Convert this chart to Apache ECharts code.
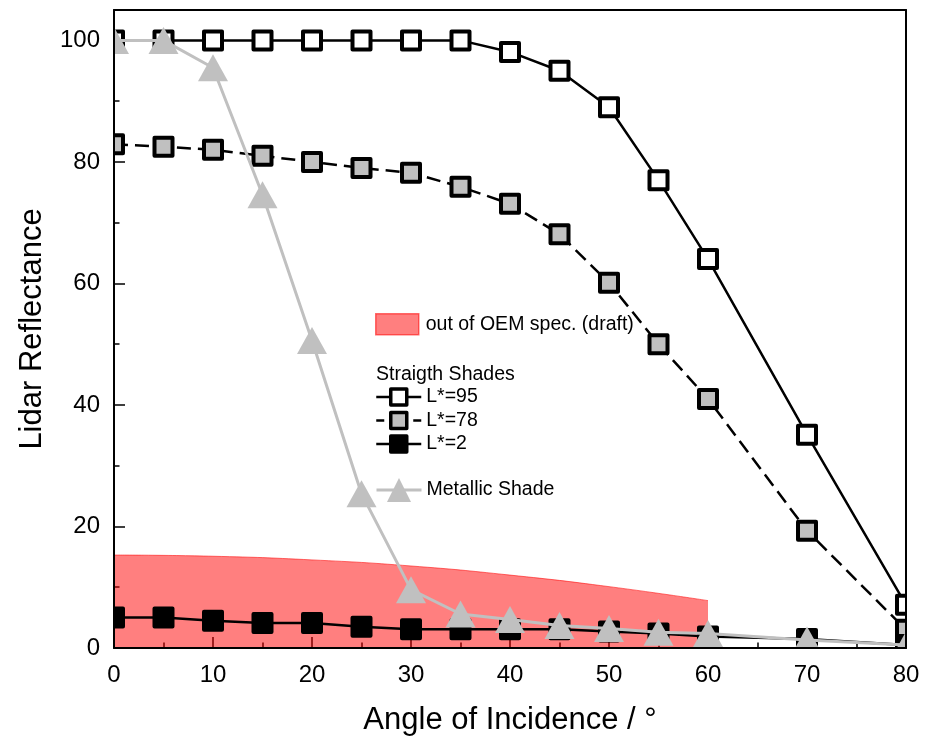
<!DOCTYPE html>
<html>
<head>
<meta charset="utf-8">
<script src="https://cdn.jsdelivr.net/npm/echarts@6/dist/echarts.min.js"></script>
<style>
  html, body { margin: 0; padding: 0; background: #fff; }
  #chart { width: 938px; height: 743px; }
</style>
</head>
<body>
<div id="chart"></div>
<script>
// Angles of incidence (degrees)
const angles = [0, 5, 10, 15, 20, 25, 30, 35, 40, 45, 50, 55, 60, 70, 80];

// Lidar reflectance of straight shades by lightness L*
const refl95 = [100, 100, 100, 100, 100, 100, 100, 100, 98.1, 95.0, 89.0, 77.0, 64.0, 35.1, 7.1];
const refl78 = [82.9, 82.5, 82.0, 81.0, 80.0, 79.0, 78.2, 75.9, 73.1, 68.1, 60.1, 50.0, 41.0, 19.3, 3.0];
const refl2  = [5.0, 5.0, 4.5, 4.1, 4.1, 3.5, 3.1, 3.1, 3.1, 3.1, 2.7, 2.4, 1.9, 1.5, 0.5];

// Lidar reflectance of the metallic shade
const reflMetallic = [100, 100, 95.5, 74.6, 50.6, 25.4, 9.6, 5.6, 4.7, 3.7, 3.2, 2.6, 2.4, 1.3, 0.5];

// Upper boundary of the out-of-spec region
const specAngles = [0, 10, 20, 30, 40, 50, 60];
const specLimit  = [15.3, 15.1, 14.5, 13.5, 12.0, 10.1, 7.8];

// Axis ranges and tick steps
const xTicks = { min: 0, max: 80, step: 10 };
const yTicks = { min: 0, max: 105, step: 20 };

const FONT = "'Liberation Sans', Arial, sans-serif";
const pairs = (xs, ys) => xs.map((x, i) => [x, ys[i]]);

// plot frame in pixels
const G = { left: 114, right: 32, top: 10, bottom: 95, w: 938, h: 743 };

const chart = echarts.init(document.getElementById('chart'), null, { renderer: 'canvas' });

const lineOn = { show: true, onZero: false, lineStyle: { color: '#000', width: 2 } };
const lineOff = { show: false };
const tickMajor = { show: true, inside: true, length: 11, lineStyle: { color: '#000', width: 1.5 } };
const tickMinor = { show: true, inside: true, length: 5.5, lineStyle: { color: '#000', width: 1.5 } };
const noLabel = { show: false };

// Tick axes sit under the series; frame/label axes sit above the edge mask.
function xAxisDef(position, frame, labels) {
  return {
    type: 'value', position: position,
    min: xTicks.min, max: xTicks.max, interval: xTicks.step,
    z: frame ? 20 : 0,
    axisLine: frame ? lineOn : lineOff,
    axisTick: frame ? { show: false } : tickMajor,
    minorTick: frame ? { show: false } :
      { show: true, splitNumber: 2, length: 5.5, lineStyle: { color: '#000', width: 1.5 } },
    splitLine: { show: false },
    axisLabel: labels ? { show: true, fontSize: 24, color: '#000', fontFamily: FONT, margin: 15 } : noLabel,
    name: labels ? 'Angle of Incidence / °' : '',
    nameLocation: 'middle', nameGap: 57,
    nameTextStyle: { fontSize: 31, color: '#000', fontFamily: FONT }
  };
}
function yAxisDef(position, step, ticks, frame, labels) {
  return {
    type: 'value', position: position,
    min: yTicks.min, max: yTicks.max, interval: step,
    z: frame ? 20 : 0,
    axisLine: frame ? lineOn : lineOff,
    axisTick: ticks || { show: false },
    splitLine: { show: false },
    axisLabel: labels ? { show: true, fontSize: 24, color: '#000', fontFamily: FONT, margin: 14, showMaxLabel: false } : noLabel,
    name: labels ? 'Lidar Reflectance' : '',
    nameLocation: 'middle', nameGap: 66,
    nameTextStyle: { fontSize: 31, color: '#000', fontFamily: FONT }
  };
}

const squareStyle = (fill) => ({ color: fill, borderColor: '#000', borderWidth: 4, borderJoin: 'round' });

// white mask outside the plot frame so edge markers are cut at the frame
const mask = (x, y, w, h) => ({ type: 'rect', z: 15, silent: true,
  shape: { x: x, y: y, width: w, height: h }, style: { fill: '#fff' } });

const option = {
  backgroundColor: '#fff',
  animation: false,
  grid: { left: G.left, right: G.right, top: G.top, bottom: G.bottom, containLabel: false },
  xAxis: [
    xAxisDef('bottom', false, false),
    xAxisDef('bottom', true, true),
    xAxisDef('top', false, false),
    xAxisDef('top', true, false)
  ],
  yAxis: [
    yAxisDef('left', yTicks.step, tickMajor, false, false),
    yAxisDef('left', yTicks.step / 2, tickMinor, false, false),
    yAxisDef('left', yTicks.step, null, true, true),
    yAxisDef('right', yTicks.step, tickMajor, false, false),
    yAxisDef('right', yTicks.step / 2, tickMinor, false, false),
    yAxisDef('right', yTicks.step, null, true, false)
  ],
  legend: [
    {
      left: 375, top: 313, padding: 0, selectedMode: false, z: 16,
      itemWidth: 43, itemHeight: 21,
      textStyle: { fontSize: 19.5, color: '#000', fontFamily: FONT, padding: [0, 0, 0, 2] },
      data: [{ name: 'out of OEM spec. (draft)', icon: 'rect',
               itemStyle: { color: 'rgba(255,0,0,0.5)', borderColor: 'rgba(255,0,0,0.55)', borderWidth: 1.5 } }]
    },
    {
      left: 375, top: 387, padding: 0, selectedMode: false, orient: 'vertical', z: 16,
      itemWidth: 45, itemHeight: 20, itemGap: 3.5,
      itemStyle: { borderWidth: 3.5 },
      lineStyle: { width: 2.5 },
      textStyle: { fontSize: 19.5, color: '#000', fontFamily: FONT },
      data: [
        { name: 'L*=95' },
        { name: 'L*=78', lineStyle: { type: [8, 29], width: 2.5 } },
        { name: 'L*=2' }
      ]
    },
    {
      left: 375, top: 478, padding: 0, selectedMode: false, z: 16,
      itemWidth: 45, itemHeight: 30,
      itemStyle: { borderWidth: 0 },
      lineStyle: { width: 3 },
      textStyle: { fontSize: 19.5, color: '#000', fontFamily: FONT },
      data: [{ name: 'Metallic Shade' }]
    }
  ],
  graphic: [
    mask(0, 0, G.left, G.h),
    mask(G.w - G.right, 0, G.right, G.h),
    mask(0, 0, G.w, G.top),
    mask(0, G.h - G.bottom, G.w, G.bottom),
    {
      type: 'text', left: 376, top: 365, z: 16,
      style: { text: 'Straigth Shades', fontSize: 19.5, fill: '#000', fontFamily: FONT }
    }
  ],
  series: [
    {
      name: 'out of OEM spec. (draft)', type: 'line', smooth: true,
      data: pairs(specAngles, specLimit),
      symbol: 'none',
      lineStyle: { color: 'rgba(255,0,0,0.55)', width: 1 },
      itemStyle: { color: 'rgba(255,0,0,0.5)' },
      areaStyle: { color: 'rgba(255,0,0,0.5)', opacity: 1 },
      z: 1
    },
    {
      name: 'L*=95', type: 'line', data: pairs(angles, refl95),
      symbol: 'rect', symbolSize: 18,
      lineStyle: { color: '#000', width: 2.5 },
      itemStyle: squareStyle('#fff'), z: 3
    },
    {
      name: 'L*=78', type: 'line', data: pairs(angles, refl78),
      symbol: 'rect', symbolSize: 18,
      lineStyle: { color: '#000', width: 2.5, type: [14, 7] },
      itemStyle: squareStyle('#c0c0c0'), z: 4
    },
    {
      name: 'L*=2', type: 'line', data: pairs(angles, refl2),
      symbol: 'rect', symbolSize: 18,
      lineStyle: { color: '#000', width: 2.5 },
      itemStyle: squareStyle('#000'), z: 5
    },
    {
      name: 'Metallic Shade', type: 'line', data: pairs(angles, reflMetallic),
      symbol: 'triangle', symbolSize: [30, 27],
      lineStyle: { color: '#c0c0c0', width: 3 },
      itemStyle: { color: '#c0c0c0', borderWidth: 0 }, z: 6
    }
  ]
};

chart.setOption(option);
</script>
</body>
</html>
